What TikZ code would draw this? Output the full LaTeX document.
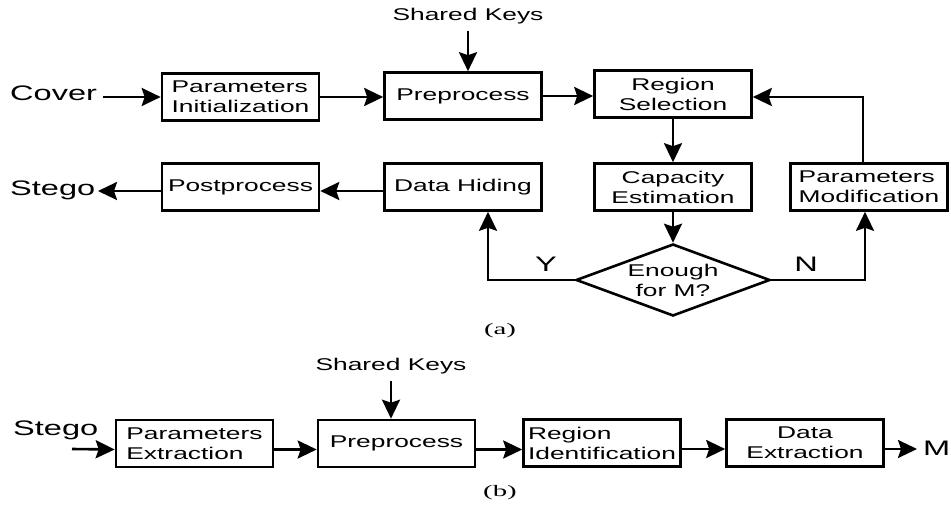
\documentclass[tikz,border=0pt]{standalone}
\usepackage{fontspec}
\setmainfont[FakeStretch=1.55]{Liberation Sans}
\newfontfamily\capfont[FakeStretch=1.8]{Liberation Serif}
\usetikzlibrary{arrows.meta,shapes.geometric}
\begin{document}
\begin{tikzpicture}[x=1pt,y=-1pt,
  box/.style={draw, line width=2.6pt, minimum width=157pt, minimum height=47pt, inner sep=0pt, align=center, font=\fontsize{17}{20}\selectfont},
  lbox/.style={box, align=left},
  lbl/.style={font=\fontsize{21}{24}\selectfont, inner sep=0pt},
  small/.style={font=\fontsize{17}{20}\selectfont, inner sep=0pt},
  dec/.style={draw, diamond, shape aspect=2.7, line width=2.6pt, minimum width=194pt, minimum height=72pt, inner sep=0pt, align=center, font=\fontsize{17}{20}\selectfont},
  arr/.style={line width=2.6pt, -{Stealth[length=19pt,width=18pt,inset=3pt]}},
  capt/.style={font=\capfont\fontsize{16}{18}\selectfont, inner sep=0pt}
]
\useasboundingbox (0,0) rectangle (951,506);

% ---------- (a) ----------
\node[lbl, anchor=base west] (cover) at (10,100) {Cover};
\node[lbox] (pinit) at (240.5,97) {Parameters\\Initialization};
\node[box] (pre1) at (463,96) {Preprocess};
\node[small] (sk1) at (468,16) {Shared Keys};
\node[box] (rsel) at (673,94) {Region\\Selection};
\node[box] (cap) at (673,187) {Capacity\\Estimation};
\node[lbox] (pmod) at (869,187) {Parameters\\Modification};
\node[box] (hide) at (463,187) {Data Hiding};
\node[box] (post) at (240.5,187) {Postprocess};
\node[lbl, anchor=base west] (stego1) at (10,195) {Stego};
\node[dec] (dia) at (673,280) {Enough\\for M?};
\node[lbl] (ylab) at (546,264) {Y};
\node[lbl] (nlab) at (806,264) {N};
\node[capt] (capa) at (500,331) {(a)};

\coordinate (cin) at (103,97);
\coordinate (sout) at (98,191);
\coordinate (ycorner) at (488,280);
\coordinate (ncorner) at (865,280);
\coordinate (fb) at (863,97);

\draw[arr] (cin) -- (pinit.west);
\draw[arr] (pinit.east) -- (pinit.east -| pre1.west);
\draw[arr, shorten <=7pt] (sk1.south) -- (sk1.south |- pre1.north);
\draw[arr] (pre1.east) -- (pre1.east -| rsel.west);
\draw[arr] (rsel.south) -- (cap.north);
\draw[arr] (cap.south) -- (dia.north);
\draw[arr] (dia.west) -- (ycorner) -- (ycorner |- hide.south);
\draw[arr] (dia.east) -- (ncorner) -- (ncorner |- pmod.south);
\draw[arr] (fb |- pmod.north) -- (fb) -- (rsel.east |- fb);
\draw[arr] ([yshift=-4pt]hide.west) -- ([yshift=-4pt]post.east);
\draw[arr] ([yshift=-4pt]post.west) -- (sout);

% ---------- (b) ----------
\node[lbl, anchor=base west] (stego2) at (13,435) {Stego};
\node[lbox] (pext) at (194.5,443.5) {Parameters\\Extraction};
\node[box] (pre2) at (396.5,443.5) {Preprocess};
\node[small] (sk2) at (391,366) {Shared Keys};
\node[lbox] (rid) at (602,443) {Region\\Identification};
\node[box] (dext) at (805,443) {Data\\Extraction};
\node[lbl, anchor=base west] (mout) at (923,455) {M};
\node[capt] (capb) at (500,493) {(b)};

\coordinate (sin) at (72,449);
\coordinate (mend) at (917,449);

\draw[arr] (sin) -- ([yshift=-6pt]pext.west);
\draw[arr] ([yshift=-6pt]pext.east) -- ([yshift=-6pt]pre2.west);
\draw[arr, shorten <=7pt] (sk2.south) -- (sk2.south |- pre2.north);
\draw[arr] ([yshift=-6pt]pre2.east) -- ([yshift=-6.5pt]rid.west);
\draw[arr] ([yshift=-6pt]rid.east) -- ([yshift=-6pt]dext.west);
\draw[arr] ([yshift=-6pt]dext.east) -- (mend);
\end{tikzpicture}
\end{document}
